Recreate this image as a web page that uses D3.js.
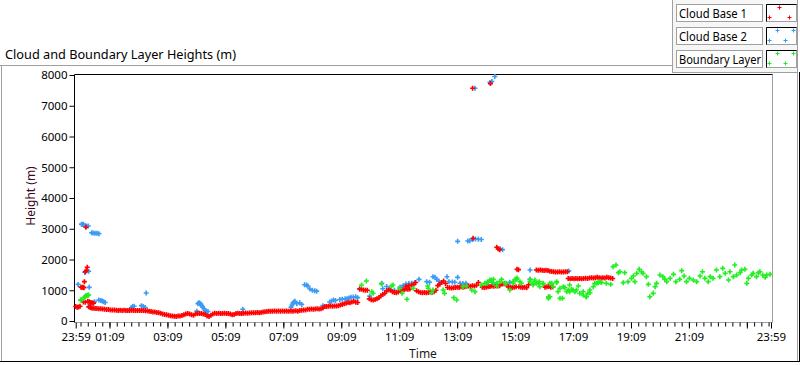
<!DOCTYPE html>
<html><head><meta charset="utf-8">
<script src="https://cdn.jsdelivr.net/npm/d3@7/dist/d3.min.js"></script>
<style>
html,body{margin:0;padding:0;background:#fff;}
svg{display:block;}
text{font-family:"Segoe UI","Noto Sans","DejaVu Sans",sans-serif;font-size:12px;}
</style></head>
<body><svg id="c" width="800" height="365"></svg>
<script>
// ---- data: [minutes since 23:59, height m] ----
const seriesNames = ["Cloud Base 1", "Cloud Base 2", "Boundary Layer"];
const seriesColors = ["#ff0000", "#3a9af5", "#22ee22"];
const yTicks = [0,1000,2000,3000,4000,5000,6000,7000,8000];
const xMajorTicks = [0,70,190,310,430,550,670,790,910,1030,1150,1270,1390,1440];
const xTickLabels = ["23:59","01:09","03:09","05:09","07:09","09:09","11:09","13:09","15:09","17:09","19:09","21:09","","23:59"];

const cloudBase1 = [
[0,470],[3,450],[6,455],[9,480],
[11,1100],[13,1090],[15,1100],[17,1085],[18,1280],[20,1600],[22,1640],[24,1750],
[16,620],[21,3050],
[20,610],[25,640],[28,630],[31,600],[34,590],[37,580],
[27,460],[30,440],[33,425],[36,415],[40,410],[44,405],[48,400],[52,395],[56,390],[60,380],[64,375],[68,370],[72,360],[76,355],[80,360],[84,350],[88,345],[92,350],[96,345],[100,350],[104,345],[108,340],[112,345],[116,350],[120,345],[124,340],[128,345],[132,340],[136,345],[140,340],[144,335],[148,330],[152,320],[156,305],[160,295],[164,290],[168,280],[172,270],[176,255],[180,230],[184,210],[188,200],[192,185],[196,170],[200,160],[204,155],[208,150],[212,160],[216,165],[220,180],[224,200],[228,230],[232,240],[236,230],[240,200],[244,190],[248,230],[252,240],[256,245],[260,240],[264,230],[268,220],[272,160],[276,150],[280,190],[284,230],[288,250],[292,245],[296,250],[300,245],[304,240],[308,250],[312,245],[316,240],[320,230],[324,200],[328,210],[332,240],[336,250],[340,245],[344,240],[348,255],[352,260],[356,250],[360,260],[364,270],[368,265],[372,270],[376,275],[380,270],[384,280],[388,290],[392,300],[396,310],[400,315],[404,320],[408,320],[412,325],[416,320],[420,325],[424,320],[428,325],[432,320],[436,325],[440,320],[444,325],[448,320],[452,325],[456,330],[460,320],[464,340],[468,350],[472,355],[476,360],[480,380],[484,385],[488,390],[492,385],[496,390],[500,395],[504,390],[508,400],[512,420],[516,470],[520,475],[524,480],[528,485],[532,480],[536,485],[540,490],[544,500],[548,520],[552,540],[556,560],[560,580],[564,600],[568,590],[572,620],[576,640],[580,610],[584,600],
[588,1040],[592,1030],[596,1010],[600,1000],[604,1000],
[608,720],[612,690],[616,680],[620,700],[624,720],[628,760],[632,820],[636,860],[640,900],[644,980],[648,1010],[652,1000],
[656,950],[660,930],[664,920],[668,940],[672,990],[676,1010],[680,1020],[684,1040],[688,1030],[692,1040],[684,1120],[690,1150],[696,1170],[700,1180],[704,1250],
[706,980],[710,950],[714,930],[718,920],[722,930],[726,920],[730,930],[734,940],[738,930],[742,950],[746,1000],[750,1150],[754,1200],[758,1250],[762,1300],[766,1220],
[770,1090],[774,1080],[778,1070],[782,1080],[786,1090],[790,1100],[794,1090],[798,1110],[802,1100],[806,1110],[810,1130],[814,1140],[818,1130],[822,1150],[826,1140],[830,1160],[834,1250],
[842,1100],[846,1090],[850,1100],[854,1110],[858,1120],[862,1140],[866,1130],[870,1150],[874,1140],[878,1150],[884,1200],[888,1210],[892,1190],[896,1110],[900,1100],[904,1090],[908,1100],[912,1110],
[914,1680],[917,1670],
[918,1110],[922,1100],[926,1090],[930,1100],[934,1080],[938,1180],
[954,1660],[958,1650],[962,1660],[966,1650],[970,1640],[974,1650],[978,1640],[982,1620],[986,1610],[990,1600],[994,1590],[998,1590],[1002,1600],[1006,1590],[1010,1590],[1014,1600],[1018,1600],
[972,1100],[976,1110],[980,1120],[984,1100],[988,1110],
[1020,1380],[1024,1370],[1028,1380],[1032,1370],[1036,1380],[1040,1370],[1044,1380],[1048,1370],[1052,1380],[1056,1390],[1060,1380],[1064,1400],[1068,1410],[1072,1400],[1076,1410],[1080,1420],[1084,1410],[1088,1400],[1092,1410],[1096,1400],[1100,1420],[1104,1410],[1108,1400],[1112,1380],
[822,7570],[859,7720],[823,2690],[872,2400],[875,2350],[878,2320]
];

const cloudBase2 = [
[5,1190],[12,3150],[14,3140],[16,3150],[20,3090],[23,3080],[26,3090],[33,2870],[36,2860],[40,2850],[44,2850],[48,2840],
[19,1580],[27,1620],[28,1095],[29,520],[39,630],[48,680],[52,670],[55,650],[58,630],[61,600],
[115,430],[118,470],[121,480],[136,500],[140,470],[144,440],[146,910],
[251,320],[253,560],[255,590],[257,580],[259,550],[261,500],[263,450],[266,400],[268,340],[271,300],[274,310],
[346,380],
[446,450],[448,520],[450,580],[452,620],[454,640],[458,560],[464,590],[468,540],[474,1180],[478,1170],[481,1140],
[485,1040],[490,1000],[495,980],[499,970],[512,500],[526,620],[530,650],[534,680],[538,670],[547,700],[552,710],[558,720],[562,720],[566,750],[570,770],[575,780],[580,790],[584,760],
[588,1040],[609,810],[634,1225],[636,1050],[644,1120],[650,1040],[660,1000],[672,1100],[678,1150],[684,1200],[690,1220],[696,1230],[702,1250],[711,1355],[727,1280],[733,1260],[740,1440],[744,1420],[748,1350],[752,1300],[769,1440],[773,1280],[780,1270],[785,1260],[791,1420],[796,1230],[802,1220],[808,1230],[854,1260],[864,1250],[899,1260],[941,1355],[941,1660],[1021,1630],
[791,2590],[812,2600],[816,2610],[822,2650],[828,2670],[834,2660],[840,2650],[879,2350],[884,2320],
[827,7570],[858,7760],[862,7790],[868,7950]
];

const boundaryLayer = [
[10,680],[12,690],[17,750],[19,790],[21,820],[23,830],[25,840],[27,845],
[592,1171],[602,1301],[613,954],[616,900],[633,1203],[654,1138],[657,1171],[671,1062],[676,900],[686,705],[699,1062],[729,1140],[730,1062],[737,921],[740,1008],[761,1008],[764,900],[783,759],[789,683],[802,1117],[809,1138],[820,1008],[827,954],[840,1171],[847,1225],
[851,1225],[854,1279],[858,1333],[861,1333],[865,1355],[865,1225],[872,1225],[872,1138],[878,1279],[882,1355],[889,1225],[892,1225],[899,1008],[906,1225],[906,1279],[910,1355],[913,1355],[914,1398],[920,1279],[923,1225],[941,1355],[941,1279],[947,1171],[948,1225],[951,1333],[954,1225],[958,1225],[960,1279],[961,1116],[968,1203],[968,1225],[979,737],[979,791],[982,791],[982,1225],[986,1225],[989,1117],[996,1279],[996,1247],[999,954],[1003,737],[1003,1062],[1008,737],[1010,1117],[1013,1084],[1017,954],[1020,1008],[1023,954],[1023,1171],[1027,1030],[1030,1008],[1034,954],[1037,1008],[1041,1138],[1044,900],[1051,954],[1051,846],[1057,791],[1058,791],[1061,900],[1065,921],[1065,1008],[1072,1116],[1075,1225],[1079,1225],[1082,1247],[1086,1279],[1089,1247],[1099,1225],[1108,1192],
[1113,1767],[1119,1821],[1124,1572],[1127,1604],[1134,1247],[1137,1572],[1144,1279],[1151,1387],[1155,1463],[1158,1279],[1162,1550],[1167,1680],[1172,1604],[1175,1550],[1182,1442],[1186,1192],[1189,791],[1196,900],[1200,1116],[1203,1225],[1210,1496],[1216,1442],[1220,1355],[1224,1279],[1231,1387],[1238,1517],[1243,1279],[1251,1355],[1255,1637],[1260,1463],[1265,1279],[1271,1387],[1279,1333],[1286,1279],[1293,1463],[1298,1604],[1303,1387],[1310,1279],[1314,1442],[1320,1387],[1327,1658],[1334,1442],[1340,1713],[1345,1550],[1352,1333],[1355,1604],[1362,1442],[1365,1821],[1369,1496],[1376,1572],[1379,1658],[1386,1680],[1390,1225],[1393,1387],[1400,1496],[1403,1550],[1410,1442],[1414,1572],[1417,1604],[1423,1496],[1428,1420],[1431,1496],[1438,1517]
];

// ---- layout ----
const svg = d3.select("#c");
const x = d3.scaleLinear().domain([0,1440]).range([75.7,771]);
const y = d3.scaleLinear().domain([0,8000]).range([321,75]);
const gray = "#a0a0a0";

// outer frame
svg.append("line").attr("x1",0).attr("x2",672).attr("y1",65.5).attr("y2",65.5).attr("stroke",gray);
svg.append("line").attr("x1",1.5).attr("x2",1.5).attr("y1",65.5).attr("y2",361).attr("stroke",gray);
svg.append("line").attr("x1",797.5).attr("x2",797.5).attr("y1",72).attr("y2",361).attr("stroke",gray);
svg.append("line").attr("x1",0).attr("x2",800).attr("y1",361.5).attr("y2",361.5).attr("stroke","#000");
svg.append("line").attr("x1",799.5).attr("x2",799.5).attr("y1",72).attr("y2",362).attr("stroke","#000");

// legend panel
svg.append("rect").attr("x",672.5).attr("y",-1).attr("width",125).attr("height",73.5)
  .attr("fill","#f6f6f6").attr("stroke",gray);

// title
svg.append("text").attr("x",5).attr("y",59).attr("fill","#000")
  .attr("textLength",231).attr("lengthAdjust","spacingAndGlyphs").style("font-size","12.5px")
  .text("Cloud and Boundary Layer Heights (m)");

// plot area
svg.append("rect").attr("x",74.5).attr("y",74.5).attr("width",698).attr("height",248).attr("fill","#fff");
svg.append("line").attr("x1",772.5).attr("x2",772.5).attr("y1",74.5).attr("y2",322.5).attr("stroke",gray);
svg.append("line").attr("x1",74.5).attr("x2",772.5).attr("y1",322.5).attr("y2",322.5).attr("stroke",gray);
svg.append("line").attr("x1",74.5).attr("x2",772.5).attr("y1",74.5).attr("y2",74.5).attr("stroke","#000");
svg.append("line").attr("x1",74.5).attr("x2",74.5).attr("y1",74.5).attr("y2",322.5).attr("stroke","#000");

// y axis
const yAxis = svg.append("g").attr("transform","translate(74.5,0)")
  .call(d3.axisLeft(y).tickValues(yTicks).tickSize(5).tickPadding(2).tickFormat(d3.format("d")));
yAxis.select(".domain").remove();
yAxis.selectAll("line").attr("stroke","#000");
yAxis.selectAll("text").attr("fill","#000").style("font-size","11.5px").attr("dy","0.33em");

// x axis minor
const xMinor = svg.append("g").attr("transform","translate(0,322.5)")
  .call(d3.axisBottom(x).tickValues(d3.range(10,1440,15)).tickSize(4).tickFormat(""));
xMinor.select(".domain").remove();
xMinor.selectAll("line").attr("stroke","#000");
// x axis major
const xMajor = svg.append("g").attr("transform","translate(0,322.5)")
  .call(d3.axisBottom(x).tickValues(xMajorTicks).tickSize(6).tickPadding(4)
    .tickFormat((d,i)=>xTickLabels[i]));
xMajor.select(".domain").remove();
xMajor.selectAll("line").attr("stroke","#000");
xMajor.selectAll("text").attr("fill","#000").style("font-size","11.5px");

// axis titles
svg.append("text").attr("x",423).attr("y",358).attr("text-anchor","middle").attr("fill","#1a1a1a").text("Time");
svg.append("text").attr("transform","translate(35,196) rotate(-90)").attr("text-anchor","middle")
  .attr("fill","#3c0a1e").text("Height (m)");

// markers
const plusPath = "M-2.5,0H2.5M0,-2.5V2.5";
const plotG = svg.append("g");
function drawSeries(data, color){
  plotG.append("g").selectAll("path").data(data).join("path")
    .attr("d", plusPath)
    .attr("transform", d => `translate(${x(d[0])},${y(d[1])})`)
    .attr("stroke", color).attr("stroke-width",1.6).attr("fill","none");
}
drawSeries(cloudBase2, seriesColors[1]);
drawSeries(cloudBase1, seriesColors[0]);
drawSeries(boundaryLayer, seriesColors[2]);

// legend
const legendRows = [4,27,50];
const legendTextLen = [68,68,82];
const iconPts = [[[12,3],[2,13],[22,13]],[[10,3],[26,3],[2,13],[18,13]],[[10,3],[26,3],[2,13],[18,13]]];
seriesNames.forEach((name,i)=>{
  const t = legendRows[i];
  svg.append("rect").attr("x",676.5).attr("y",t+0.5).attr("width",86).attr("height",17)
    .attr("fill","#fff").attr("stroke",gray);
  svg.append("text").attr("x",679).attr("y",t+13.5).attr("fill","#000")
    .attr("textLength",legendTextLen[i]).attr("lengthAdjust","spacingAndGlyphs").text(name);
  svg.append("rect").attr("x",766.5).attr("y",t+0.5).attr("width",30).attr("height",17)
    .attr("fill","#fff").attr("stroke",gray);
  svg.append("path").attr("d",`M766.5,${t+17.5}V${t+0.5}H796.5`).attr("stroke","#000").attr("fill","none");
  svg.append("g").selectAll("path").data(iconPts[i]).join("path")
    .attr("d","M-2,0H2M0,-2V2")
    .attr("transform",d=>`translate(${767+d[0]+0.5},${t+d[1]+0.5})`)
    .attr("stroke",seriesColors[i]).attr("stroke-width",1).attr("fill","none");
});
</script></body></html>
